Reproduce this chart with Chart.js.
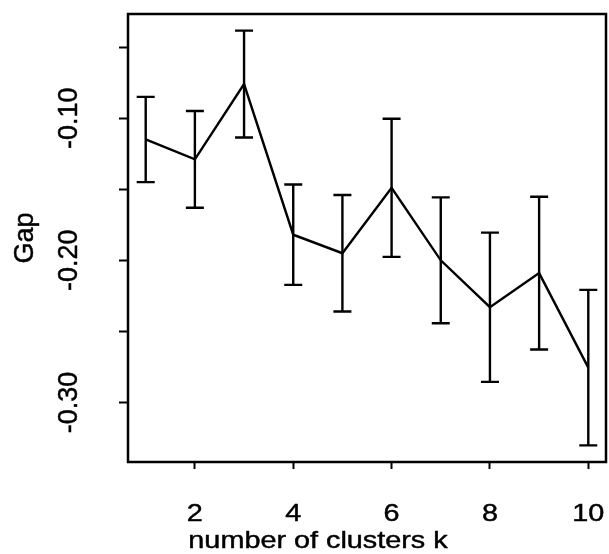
<!DOCTYPE html>
<html>
<head>
<meta charset="utf-8">
<title>Gap statistic</title>
<script src="https://cdn.jsdelivr.net/npm/chart.js@4.4.0/dist/chart.umd.min.js"></script>
<style>
  html, body { margin: 0; padding: 0; background: #fff; }
  canvas { display: block; }
</style>
</head>
<body>
<canvas id="gap-chart" width="609" height="554"></canvas>
<script>
// gap statistic per number of clusters, with its standard error
const clusterCounts = [1, 2, 3, 4, 5, 6, 7, 8, 9, 10];
const gapValues = [-0.115, -0.129, -0.076, -0.182, -0.195, -0.149, -0.200, -0.233, -0.209, -0.2755];
const gapErrors = [0.030, 0.034, 0.0376, 0.0353, 0.041, 0.0486, 0.0443, 0.0525, 0.0537, 0.0547];

const xTickValues = [2, 4, 6, 8, 10];
const yTickValues = [-0.05, -0.10, -0.15, -0.20, -0.25, -0.30];
const yTickLabels = ['', '-0.10', '', '-0.20', '', '-0.30'];

const xTitle = 'number of clusters k';
const yTitle = 'Gap';

const FONT = '"Liberation Sans", Arial, Helvetica, sans-serif';
const LINE_W = 2.4;

// axis limits padded by 4% like R's default
const lows = gapValues.map((g, i) => g - gapErrors[i]);
const highs = gapValues.map((g, i) => g + gapErrors[i]);
const yLo = Math.min(...lows), yHi = Math.max(...highs);
const yPad = (yHi - yLo) * 0.04;
const xLo = Math.min(...clusterCounts), xHi = Math.max(...clusterCounts);
const xPad = (xHi - xLo) * 0.04;

// text with optional horizontal stretch and a light outline to thicken it
function drawText(ctx, text, x, y, size, stretch, angle) {
    ctx.save();
    ctx.translate(x, y);
    if (angle) ctx.rotate(angle);
    ctx.scale(stretch, 1);
    ctx.font = size + 'px ' + FONT;
    ctx.lineWidth = 0.45;
    ctx.lineJoin = 'round';
    ctx.fillText(text, 0, 0);
    ctx.strokeText(text, 0, 0);
    ctx.restore();
}

const gapDecor = {
    id: 'gapDecor',
    afterDatasetsDraw(chart) {
        const { ctx, chartArea: a, scales: { x, y } } = chart;
        ctx.save();
        ctx.strokeStyle = '#000';
        ctx.fillStyle = '#000';
        ctx.lineWidth = LINE_W;

        // error bars
        clusterCounts.forEach((k, i) => {
            const px = x.getPixelForValue(k);
            const top = y.getPixelForValue(highs[i]);
            const bot = y.getPixelForValue(lows[i]);
            ctx.beginPath();
            ctx.moveTo(px, top); ctx.lineTo(px, bot);
            ctx.moveTo(px - 9, top); ctx.lineTo(px + 9, top);
            ctx.moveTo(px - 9, bot); ctx.lineTo(px + 9, bot);
            ctx.stroke();
        });

        // box
        ctx.lineWidth = 2.5;
        ctx.strokeRect(a.left, a.top, a.right - a.left, a.bottom - a.top);

        // tick labels
        ctx.textAlign = 'center';
        ctx.textBaseline = 'alphabetic';
        xTickValues.forEach(v => {
            drawText(ctx, String(v), x.getPixelForValue(v), 521, 24, 1.2, 0);
        });
        yTickValues.forEach((v, i) => {
            if (!yTickLabels[i]) return;
            drawText(ctx, yTickLabels[i], 77, y.getPixelForValue(v), 27, 1, -Math.PI / 2);
        });

        // axis titles
        drawText(ctx, xTitle, 318, 548, 24, 1.2, 0);
        drawText(ctx, yTitle, 33, (a.top + a.bottom) / 2, 27, 1, -Math.PI / 2);
        ctx.restore();
    }
};

const ctx = document.getElementById('gap-chart').getContext('2d');
const gapChart = new Chart(ctx, {
    type: 'line',
    data: {
        datasets: [{
            data: clusterCounts.map((k, i) => ({ x: k, y: gapValues[i] })),
            borderColor: '#000',
            borderWidth: LINE_W,
            pointRadius: 0,
            tension: 0,
            fill: false
        }]
    },
    options: {
        responsive: false,
        animation: false,
        devicePixelRatio: 1,
        layout: { padding: { top: 14, right: 3, left: 0, bottom: 0 } },
        plugins: { legend: { display: false }, tooltip: { enabled: false } },
        scales: {
            x: {
                type: 'linear',
                min: xLo - xPad,
                max: xHi + xPad,
                afterBuildTicks: s => { s.ticks = xTickValues.map(v => ({ value: v })); },
                afterFit: s => { s.height = 92; },
                ticks: { display: false },
                border: { display: false },
                grid: { drawOnChartArea: false, drawTicks: true, tickLength: 7, tickWidth: 2, tickColor: '#000' }
            },
            y: {
                type: 'linear',
                min: yLo - yPad,
                max: yHi + yPad,
                afterBuildTicks: s => { s.ticks = yTickValues.map(v => ({ value: v })); },
                afterFit: s => { s.width = 128; },
                ticks: { display: false },
                border: { display: false },
                grid: { drawOnChartArea: false, drawTicks: true, tickLength: 9, tickWidth: 2, tickColor: '#000' }
            }
        }
    },
    plugins: [gapDecor]
});
</script>
</body>
</html>
